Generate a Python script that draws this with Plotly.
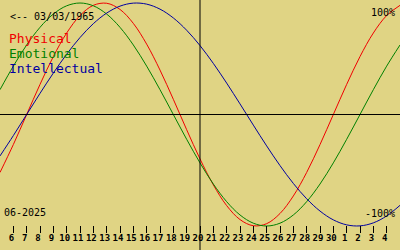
import plotly.graph_objects as go

# Days shown: June 5 .. July 5 (2025); centre line on June 20
days = list(range(5, 36))
physical = [-0.5196, -0.2698, 0.0, 0.2698, 0.5196, 0.7308, 0.8879, 0.9791, 0.9977, 0.9423,
            0.8170, 0.6311, 0.3984, 0.1362, -0.1362, -0.3984, -0.6311, -0.8170, -0.9423, -0.9977,
            -0.9791, -0.8879, -0.7308, -0.5196, -0.2698, 0.0, 0.2698, 0.5196, 0.7308, 0.8879, 0.9791]
emotional = [0.2225, 0.4339, 0.6235, 0.7818, 0.9010, 0.9749, 1.0, 0.9749, 0.9010, 0.7818,
             0.6235, 0.4339, 0.2225, 0.0, -0.2225, -0.4339, -0.6235, -0.7818, -0.9010, -0.9749,
             -1.0, -0.9749, -0.9010, -0.7818, -0.6235, -0.4339, -0.2225, 0.0, 0.2225, 0.4339, 0.6235]
intellectual = [-0.3717, -0.1893, 0.0, 0.1893, 0.3717, 0.5406, 0.6901, 0.8146, 0.9096, 0.9718,
                0.9989, 0.9898, 0.9450, 0.8660, 0.7557, 0.6182, 0.4582, 0.2817, 0.0951, -0.0951,
                -0.2817, -0.4582, -0.6182, -0.7557, -0.8660, -0.9450, -0.9898, -0.9989, -0.9718, -0.9096, -0.8146]

tick_days = list(range(6, 35))
tick_labels = [str(d) if d <= 30 else str(d - 30) for d in tick_days]

series_names = ["Physical", "Emotional", "Intellectual"]
series_colors = ["#f00000", "#008000", "#0000a0"]
center_day = 20
birth_label = "<-- 03/03/1965"
month_label = "06-2025"

BG = "#e0d484"
W, H = 400, 250

fig = go.Figure()
for name, vals, col in zip(series_names, [physical, emotional, intellectual], series_colors):
    fig.add_trace(go.Scatter(x=days, y=vals, mode="lines", name=name,
                             line=dict(color=col, width=1, shape="spline", smoothing=1.0),
                             hoverinfo="skip"))

# zero line and centre-day line
fig.add_shape(type="line", xref="x", yref="paper", x0=center_day, x1=center_day, y0=0, y1=1,
              line=dict(color="black", width=1))
fig.add_shape(type="line", xref="paper", yref="y", x0=0, x1=1, y0=0, y1=0,
              line=dict(color="black", width=1))

mono = "DejaVu Sans Mono"

def px(x):
    return x / W

def py(y):
    return 1 - y / H

anns = [
    dict(text=birth_label, x=px(8.5), y=py(16.5), xanchor="left", yanchor="middle",
         font=dict(family=mono, size=10, color="black")),
    dict(text=series_names[0], x=px(8), y=py(38.5), xanchor="left", yanchor="middle",
         font=dict(family=mono, size=13, color=series_colors[0])),
    dict(text=series_names[1], x=px(8), y=py(53.5), xanchor="left", yanchor="middle",
         font=dict(family=mono, size=13, color=series_colors[1])),
    dict(text=series_names[2], x=px(8), y=py(68.5), xanchor="left", yanchor="middle",
         font=dict(family=mono, size=13, color=series_colors[2])),
    dict(text="100%", x=px(396), y=py(12.5), xanchor="right", yanchor="middle",
         font=dict(family=mono, size=10, color="black")),
    dict(text="-100%", x=px(396), y=py(213), xanchor="right", yanchor="middle",
         font=dict(family=mono, size=10, color="black")),
    dict(text=month_label, x=px(3), y=py(212.5), xanchor="left", yanchor="middle",
         font=dict(family=mono, size=10, color="black")),
]
for a in anns:
    a.update(xref="paper", yref="paper", showarrow=False, borderpad=0)
    fig.add_annotation(**a)

ytop = 114.5 / 111.5
ybot = ytop - H / 111.5

fig.update_layout(
    width=W, height=H, margin=dict(l=0, r=0, t=0, b=0),
    paper_bgcolor=BG, plot_bgcolor=BG, showlegend=False,
    xaxis=dict(range=[5, 35], showgrid=False, zeroline=False, showline=False,
               anchor="free", position=(H - 224.5) / H,
               ticks="outside", ticklen=7, tickwidth=1, tickcolor="black",
               tickvals=tick_days, ticktext=tick_labels, ticklabelstandoff=-2,
               ticklabelshift=-2, tickangle=0,
               tickfont=dict(family=mono, size=9, color="black", weight="bold"),
               fixedrange=True),
    yaxis=dict(range=[ybot, ytop], showgrid=False, zeroline=False, showline=False,
               showticklabels=False, ticks="", fixedrange=True),
)

fig.write_html("out.html", config={"displayModeBar": False})
